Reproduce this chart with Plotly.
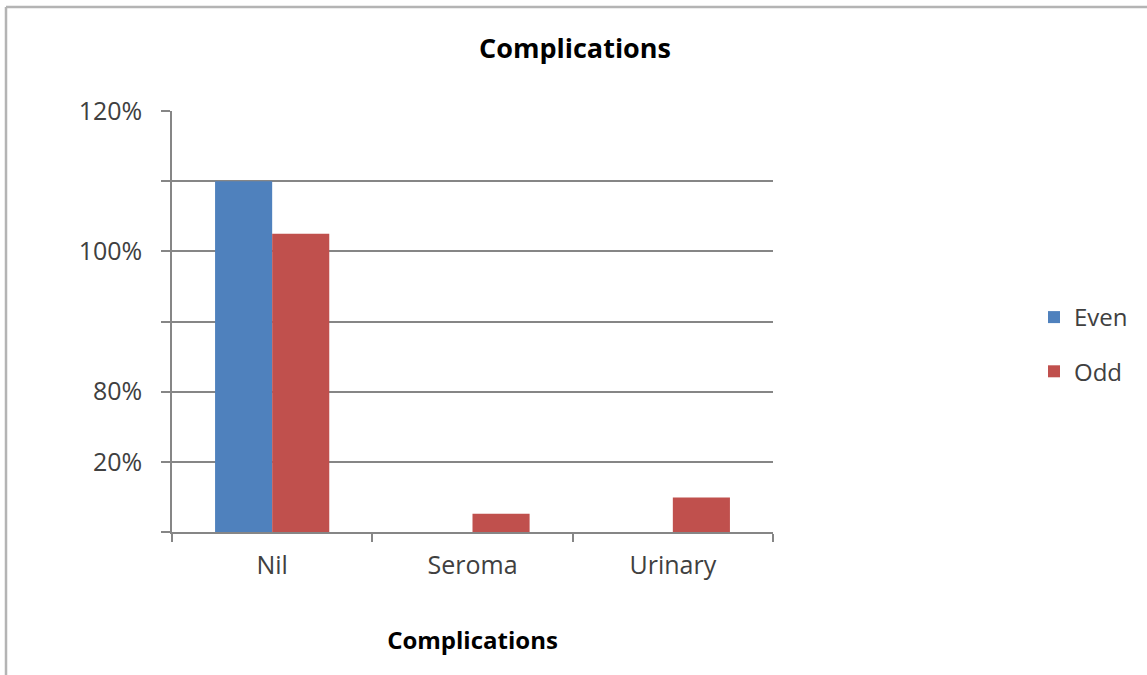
import plotly.graph_objects as go

categories = ["Nil", "Seroma", "Urinary"]
even_values = [5.0, 0.0, 0.0]
odd_values = [4.25, 0.26, 0.49]
y_tick_positions = [0, 1, 2, 3, 4, 5, 6]
y_tick_labels = ["", "20%", "80%", "", "100%", "", "120%"]

FONT = "Open Sans, Noto Sans, sans-serif"
L, R, T, B = 172, 773, 111, 532
W, H = 1147, 675
pw, ph = R - L, B - T

fig = go.Figure()
fig.add_bar(x=categories, y=even_values, name="Even", marker_color="#4F81BD",
            marker_line_width=0, legendgroup="a")
fig.add_bar(x=categories, y=odd_values, name="Odd", marker_color="#C0504D",
            marker_line_width=0, legendgroup="b")

def px(x):
    return (x - L) / pw

def py(y):
    return (B - y) / ph

fig.update_layout(
    width=W, height=H,
    margin=dict(l=L, r=W - R, t=T, b=H - B),
    paper_bgcolor="white", plot_bgcolor="white",
    barmode="group", bargap=0.43, bargroupgap=0,
    title=dict(text="<b>Complications</b>", x=px(575), xref="paper", xanchor="center",
               y=1 - 49 / H, yanchor="middle",
               font=dict(family=FONT, size=27, color="#000000")),
    font=dict(family=FONT, size=24, color="#404040"),
    legend=dict(x=px(1034), y=py(295), xanchor="left", yanchor="top",
                font=dict(family=FONT, size=24, color="#404040"),
                tracegroupgap=20, itemwidth=30, bgcolor="rgba(0,0,0,0)"),
    xaxis=dict(
        type="category", showgrid=False, showline=True, linecolor="#868686", linewidth=1.5,
        ticks="outside", ticklen=8, tickcolor="#868686", tickwidth=1.5, tickson="boundaries",
        ticklabelstandoff=10,
        tickfont=dict(family=FONT, size=25, color="#404040"),
        title=dict(text="<b>Complications</b>", standoff=52,
                   font=dict(family=FONT, size=24, color="#000000")),
        range=[-0.5, 2.5],
    ),
    yaxis=dict(
        range=[0, 6], tickmode="array", tickvals=y_tick_positions, ticktext=y_tick_labels,
        showgrid=True, gridcolor="#868686", gridwidth=1.5,
        showline=True, linecolor="#868686", linewidth=1.5,
        ticks="outside", ticklen=9, tickcolor="#868686", tickwidth=1.5,
        ticklabelstandoff=14, zeroline=False,
        tickfont=dict(family=FONT, size=25, color="#404040"),
    ),
    shapes=[
        dict(type="line", xref="paper", yref="paper", x0=px(6), x1=px(W + 5), y0=py(7), y1=py(7),
             line=dict(color="#B4B4B4", width=2.5)),
        dict(type="line", xref="paper", yref="paper", x0=px(6), x1=px(6), y0=py(7), y1=py(H + 5),
             line=dict(color="#B4B4B4", width=2.5)),
    ],
)

fig.write_html("out.html")
